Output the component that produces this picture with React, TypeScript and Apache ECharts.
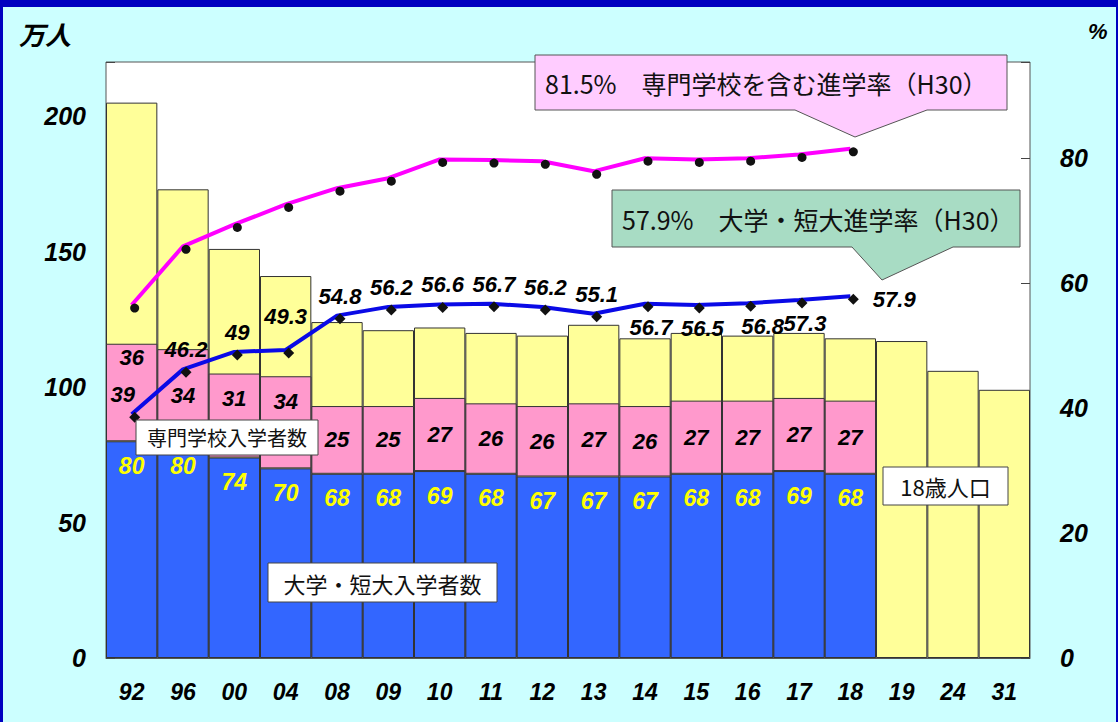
import React, { useEffect, useRef } from "react";
import * as echarts from "echarts";

const categories = ["92", "96", "00", "04", "08", "09", "10", "11", "12", "13", "14", "15", "16", "17", "18", "19", "24", "31"];
const population18 = [205, 173, 151, 141, 124, 121, 122, 120, 119, 123, 118, 120, 119, 120, 118, 117, 106, 99];
const univEntrants = [80, 80, 74, 70, 68, 68, 69, 68, 67, 67, 67, 68, 68, 69, 68];
const vocEntrants = [36, 34, 31, 34, 25, 25, 27, 26, 26, 27, 26, 27, 27, 27, 27];
const univRate = [39, 46.2, 49, 49.3, 54.8, 56.2, 56.6, 56.7, 56.2, 55.1, 56.7, 56.5, 56.8, 57.3, 57.9];
const totalRate = [56.5, 65.9, 69.4, 72.6, 75.2, 76.8, 79.8, 79.7, 79.5, 77.9, 80.0, 79.8, 80.0, 80.6, 81.5];

const leftTicks = { min: 0, max: 220, interval: 50 };
const rightTicks = { min: 0, max: 95.4, interval: 20 };

const NUM_FONT = "'Liberation Sans', Arial, sans-serif";
const JP_FONT = "'Noto Sans CJK JP', sans-serif";

export default function App() {
  const ref = useRef<HTMLDivElement>(null);

  useEffect(() => {
    if (!ref.current) return;
    const chart = echarts.init(ref.current, undefined, { renderer: "svg" });

    const numLabel = {
      fontFamily: NUM_FONT,
      fontWeight: "bold" as const,
      fontStyle: "italic" as const,
      fontSize: 22,
    };

    const rateLabelLayout = (i: number) => {
      if (i === 0) return { position: "top", offset: [-12, 0] };
      if (i === 3) return { position: "top", offset: [-3, -14] };
      if (i === 14) return { position: "right", distance: 14 };
      if (i >= 10 && i <= 13) return { position: "bottom", offset: i === 12 ? [12, -2] : [3, -2] };
      return { position: "top" };
    };

    const vocLabelLayout = (i: number) => {
      if (i === 0) return { position: "insideTop", distance: 3 };
      if (i === 2 || i === 3) return { position: "insideTop", distance: 14 };
      return null;
    };

    const calloutText = (x: number, y: number, text: string, size: number) => ({
      type: "text",
      x,
      y,
      z: 101,
      style: { text, fontFamily: JP_FONT, fontSize: size, fill: "#111", verticalAlign: "middle" },
    });

    const labelBox = (x: number, y: number, w: number, h: number, text: string, size: number) => [
      {
        type: "rect",
        z: 100,
        shape: { x, y, width: w, height: h },
        style: { fill: "#fff", stroke: "#444", lineWidth: 1 },
      },
      {
        type: "text",
        z: 101,
        x: x + w / 2,
        y: y + h / 2,
        style: { text, fontFamily: JP_FONT, fontSize: size, fill: "#111", align: "center", verticalAlign: "middle" },
      },
    ];

    chart.setOption({
      animation: false,
      backgroundColor: "transparent",
      grid: {
        left: 106,
        right: 88,
        top: 62,
        bottom: 64,
        show: true,
        backgroundColor: "#ffffff",
        borderColor: "#555",
        borderWidth: 1,
      },
      xAxis: {
        type: "category",
        data: categories,
        axisLine: { show: true, lineStyle: { color: "#555" } },
        axisTick: { show: false },
        axisLabel: { ...numLabel, fontSize: 23, color: "#000", margin: 22 },
      },
      yAxis: [
        {
          type: "value",
          ...leftTicks,
          axisLine: { show: false },
          axisTick: { show: true, inside: true, length: 9, lineStyle: { color: "#444" } },
          splitLine: { show: false },
          axisLabel: {
            ...numLabel,
            fontSize: 25,
            color: "#000",
            margin: 20,
            formatter: (v: number) => (v === leftTicks.max ? "" : String(v)),
          },
        },
        {
          type: "value",
          ...rightTicks,
          position: "right",
          axisLine: { show: false },
          axisTick: { show: true, inside: true, length: 9, lineStyle: { color: "#444" } },
          splitLine: { show: false },
          axisLabel: {
            ...numLabel,
            fontSize: 25,
            color: "#000",
            margin: 30,
            formatter: (v: number) => (v === rightTicks.max ? "" : String(v)),
          },
        },
      ],
      series: [
        {
          name: "18歳人口",
          type: "bar",
          data: population18,
          barGap: "-100%",
          barCategoryGap: "0%",
          itemStyle: { color: "#ffff99", borderColor: "#333", borderWidth: 1 },
          z: 1,
        },
        {
          name: "大学・短大入学者数",
          type: "bar",
          stack: "entrants",
          data: univEntrants,
          itemStyle: { color: "#3366ff", borderColor: "#333", borderWidth: 1 },
          label: { show: true, position: "insideTop", distance: 13, ...numLabel, fontSize: 23, color: "#ffff00" },
          z: 2,
        },
        {
          name: "専門学校入学者数",
          type: "bar",
          stack: "entrants",
          data: vocEntrants.map((v, i) => {
            const lbl = vocLabelLayout(i);
            return lbl ? { value: v, label: lbl } : v;
          }),
          itemStyle: { color: "#ff99cc", borderColor: "#333", borderWidth: 1 },
          label: { show: true, position: "inside", ...numLabel, color: "#000" },
          z: 2,
        },
        {
          name: "専門学校を含む進学率",
          type: "line",
          yAxisIndex: 1,
          data: totalRate,
          symbol: "circle",
          symbolSize: 9,
          symbolOffset: [3, 3],
          itemStyle: { color: "#111" },
          lineStyle: { color: "#ff00ff", width: 4 },
          z: 5,
        },
        {
          name: "大学・短大進学率",
          type: "line",
          yAxisIndex: 1,
          data: univRate.map((v, i) => ({ value: v, label: rateLabelLayout(i) })),
          symbol: "diamond",
          symbolSize: 11,
          symbolOffset: [3, 3],
          itemStyle: { color: "#111" },
          lineStyle: { color: "#0a0ae6", width: 4 },
          label: { show: true, ...numLabel, color: "#000", distance: 6 },
          z: 5,
        },
      ],
      graphic: [
        {
          type: "text",
          x: 19,
          y: 20,
          style: { text: "万人", fontFamily: JP_FONT, fontSize: 26, fontWeight: "bold", fontStyle: "italic", fill: "#000" },
        },
        {
          type: "text",
          x: 1088,
          y: 20,
          style: { text: "%", fontFamily: NUM_FONT, fontSize: 22, fontWeight: "bold", fontStyle: "italic", fill: "#000" },
        },
        {
          type: "polygon",
          z: 100,
          shape: {
            points: [[535, 55], [1007, 55], [1007, 110], [927, 110], [855, 137], [795, 110], [535, 110]],
          },
          style: { fill: "#ffccff", stroke: "#555", lineWidth: 1 },
        },
        calloutText(545, 83, "81.5%　専門学校を含む進学率（H30）", 25),
        {
          type: "polygon",
          z: 100,
          shape: {
            points: [[612, 190], [1020, 190], [1020, 247], [953, 247], [882, 280], [852, 247], [612, 247]],
          },
          style: { fill: "#a8dcc4", stroke: "#555", lineWidth: 1 },
        },
        calloutText(622, 219, "57.9%　大学・短大進学率（H30）", 25),
        ...labelBox(136, 420, 182, 35, "専門学校入学者数", 20),
        ...labelBox(268, 563, 229, 39, "大学・短大入学者数", 22),
        ...labelBox(883, 467, 125, 38, "18歳人口", 22),
      ],
    });

    return () => chart.dispose();
  }, []);

  return (
    <div style={{ position: "fixed", left: 0, top: 0, width: 1118, height: 722, background: "#ccffff", overflow: "hidden" }}>
      <div style={{ position: "absolute", left: 0, top: 0, width: 1118, height: 7, background: "#0000c0" }} />
      <div style={{ position: "absolute", left: 0, top: 0, width: 3, height: 722, background: "#0000c0" }} />
      <div style={{ position: "absolute", right: 0, top: 0, width: 2, height: 722, background: "#0000c0" }} />
      <div ref={ref} style={{ position: "absolute", left: 0, top: 0, width: 1118, height: 722 }} />
    </div>
  );
}
